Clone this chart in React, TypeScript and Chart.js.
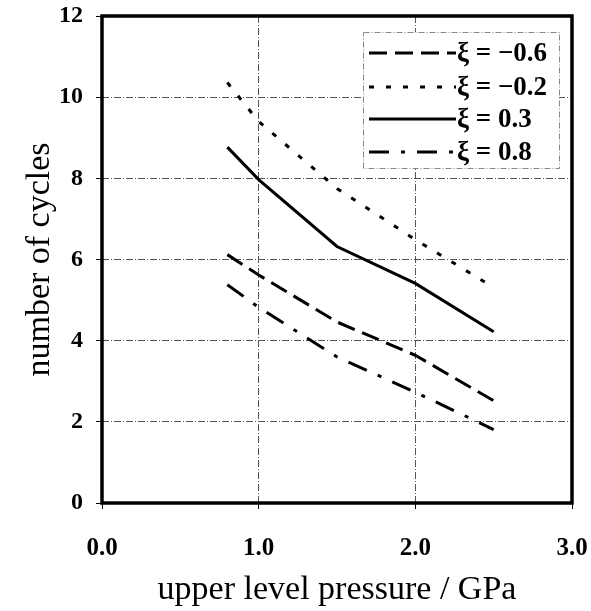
import React, { useEffect, useRef } from "react";
import { Chart, registerables } from "chart.js";

Chart.register(...registerables);

const pressures = [0.8, 1.0, 1.5, 2.0, 2.5];
const seriesLabels = ["ξ = −0.6", "ξ = −0.2", "ξ = 0.3", "ξ = 0.8"];
const xiMinus06 = [6.12, 5.62, 4.46, 3.64, 2.52];
const xiMinus02 = [10.36, 9.4, 7.75, 6.49, 5.31];
const xi03 = [8.77, 7.97, 6.32, 5.41, 4.22];
const xi08 = [5.38, 4.82, 3.6, 2.73, 1.81];
const xTicks = [0, 1, 2, 3];
const yTicks = [0, 2, 4, 6, 8, 10, 12];

const FONT = "'Liberation Serif', 'Times New Roman', serif";
const dashes = [[18, 8], [5, 12], [], [20, 12, 4, 12]];

const legendPlugin = {
  id: "frameAndLegend",
  afterDatasetsDraw(chart: any) {
    const { ctx, chartArea } = chart;
    ctx.save();
    ctx.strokeStyle = "#000";
    ctx.lineWidth = 3.5;
    ctx.setLineDash([]);
    ctx.strokeRect(chartArea.left, chartArea.top, chartArea.right - chartArea.left, chartArea.bottom - chartArea.top);
    ctx.restore();
  },
  afterDraw(chart: any) {
    const { ctx } = chart;
    const bx = 363, by = 32, bw = 196, bh = 136;
    ctx.save();
    ctx.fillStyle = "#fff";
    ctx.fillRect(bx, by, bw, bh);
    ctx.strokeStyle = "#888";
    ctx.lineWidth = 1;
    ctx.setLineDash([6, 2, 1, 2]);
    ctx.strokeRect(bx + 0.5, by + 0.5, bw, bh);
    const rows = [53, 87, 119, 152];
    chart.data.datasets.forEach((ds: any, i: number) => {
      const y = rows[i];
      ctx.strokeStyle = "#000";
      ctx.lineWidth = 3;
      ctx.setLineDash(ds.borderDash || []);
      ctx.beginPath();
      ctx.moveTo(369, y);
      ctx.lineTo(456, y);
      ctx.stroke();
      ctx.setLineDash([]);
      ctx.fillStyle = "#000";
      ctx.font = `bold 27px ${FONT}`;
      ctx.textAlign = "left";
      ctx.textBaseline = "middle";
      ctx.fillText(ds.label, 457, y + 1);
    });
    ctx.restore();
  },
};

export default function App() {
  const ref = useRef<HTMLCanvasElement | null>(null);
  useEffect(() => {
    document.body.style.margin = "0";
    const series = [xiMinus06, xiMinus02, xi03, xi08];
    const chart = new Chart(ref.current as HTMLCanvasElement, {
      type: "line",
      data: {
        datasets: series.map((vals, i) => ({
          label: seriesLabels[i],
          data: pressures.map((p, j) => ({ x: p, y: vals[j] })),
          borderColor: "#000",
          borderWidth: 3,
          borderDash: dashes[i],
          pointRadius: 0,
          tension: 0,
          fill: false,
        })),
      },
      options: {
        responsive: false,
        animation: false,
        devicePixelRatio: 1,
        layout: { padding: { top: 16, right: 19, bottom: 0, left: 0 } },
        plugins: {
          legend: { display: false },
          tooltip: { enabled: false },
        },
        scales: {
          x: {
            type: "linear",
            min: 0,
            max: 3,
            afterBuildTicks: (scale: any) => {
              scale.ticks = xTicks.map((v) => ({ value: v }));
            },
            afterFit: (scale: any) => {
              scale.height = 108;
              scale.paddingLeft = 0;
              scale.paddingRight = 0;
            },
            ticks: {
              color: "#000",
              padding: 25,
              maxRotation: 0,
              font: { family: FONT, size: 25, weight: "bold" },
              callback: (v: any) => Number(v).toFixed(1),
            },
            grid: {
              color: "#555",
              lineWidth: 1,
              tickLength: 6,
              tickColor: "#000",
              tickBorderDash: [],
            },
            border: { display: false, dash: [7, 2, 1, 2] },
            title: {
              display: true,
              text: "upper level pressure / GPa",
              color: "#000",
              font: { family: FONT, size: 34, weight: "normal" },
              padding: { top: 0, bottom: 1 },
            },
          },
          y: {
            type: "linear",
            min: 0,
            max: 12,
            afterBuildTicks: (scale: any) => {
              scale.ticks = yTicks.map((v) => ({ value: v }));
            },
            afterFit: (scale: any) => {
              scale.width = 102;
              scale.paddingTop = 0;
              scale.paddingBottom = 0;
            },
            ticks: {
              color: "#000",
              padding: 13,
              font: { family: FONT, size: 24, weight: "bold" },
            },
            grid: {
              color: "#555",
              lineWidth: 1,
              tickLength: 6,
              tickColor: "#000",
              tickBorderDash: [],
            },
            border: { display: false, dash: [7, 2, 1, 2] },
            title: {
              display: true,
              text: "number of cycles",
              color: "#000",
              font: { family: FONT, size: 34, weight: "normal" },
              padding: { top: 20, bottom: 0 },
            },
          },
        },
      },
      plugins: [legendPlugin],
    } as any);
    return () => chart.destroy();
  }, []);
  return (
    <div style={{ position: "absolute", left: 0, top: 0, width: 591, height: 611 }}>
      <canvas ref={ref} width={591} height={611} style={{ display: "block" }} />
    </div>
  );
}
